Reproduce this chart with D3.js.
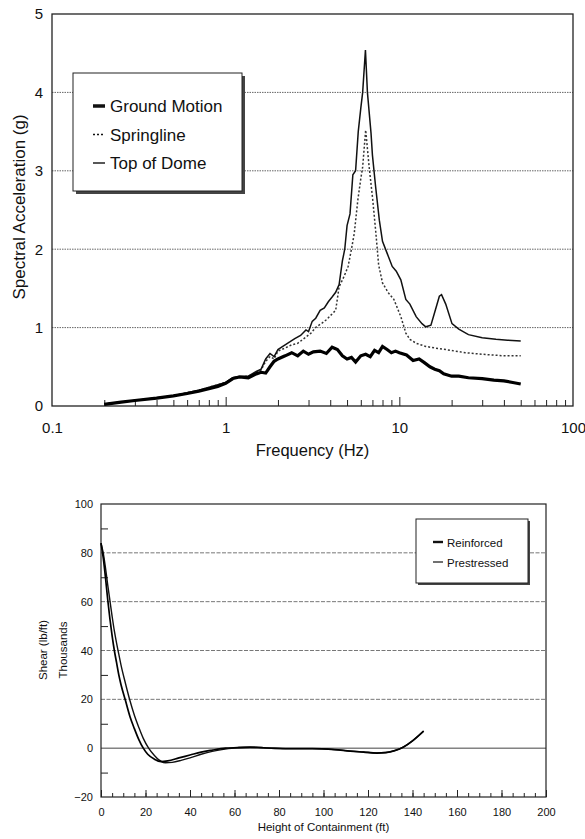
<!DOCTYPE html>
<html>
<head>
<meta charset="utf-8">
<script src="https://cdn.jsdelivr.net/npm/d3@7"></script>
<style>
  body { margin: 0; background: #fff; }
  svg { display: block; font-family: "Liberation Sans", Arial, sans-serif; }
</style>
</head>
<body>
<div class="chart"></div>
<script>
// ---- top chart: response spectra ----
const groundFreq = [0.2,0.25,0.3,0.4,0.5,0.6,0.7,0.8,0.9,1.0,1.1,1.2,1.35,1.5,1.6,1.7,1.8,1.9,2.0,2.2,2.4,2.6,2.8,3.0,3.2,3.5,3.8,4.1,4.4,4.7,5.0,5.3,5.6,6.0,6.4,6.8,7.2,7.6,8.0,8.5,9.0,9.5,10,11,12,13,14,15,16,17,18,20,22,25,30,35,40,45,50];
const groundAccel = [0.02,0.05,0.07,0.1,0.13,0.16,0.19,0.22,0.25,0.29,0.35,0.37,0.36,0.41,0.43,0.42,0.5,0.57,0.6,0.64,0.68,0.64,0.7,0.66,0.69,0.7,0.67,0.75,0.72,0.64,0.6,0.62,0.56,0.64,0.66,0.63,0.71,0.68,0.76,0.72,0.68,0.7,0.68,0.65,0.58,0.6,0.55,0.5,0.47,0.45,0.41,0.38,0.38,0.36,0.35,0.33,0.32,0.3,0.28];

const springFreq = [0.2,0.3,0.5,0.7,1.0,1.1,1.2,1.35,1.5,1.6,1.7,1.8,1.9,2.0,2.2,2.4,2.6,2.9,3.1,3.33,3.6,3.8,4.0,4.3,4.5,4.8,5.07,5.3,5.5,5.77,6.0,6.15,6.4,6.7,7.03,7.33,7.6,8.0,8.6,9.3,10.2,10.9,11.5,12.5,14.2,16,18.5,21,24,30,40,50];
const springAccel = [0.025,0.07,0.13,0.2,0.3,0.35,0.37,0.38,0.43,0.46,0.57,0.63,0.6,0.7,0.74,0.78,0.8,0.88,0.93,1.01,1.06,1.1,1.15,1.22,1.52,1.65,1.78,2.0,2.2,2.63,2.9,3.05,3.52,3.05,2.63,2.2,1.8,1.57,1.45,1.36,1.14,0.93,0.85,0.8,0.76,0.74,0.72,0.7,0.68,0.66,0.64,0.64];

const domeFreq = [0.2,0.3,0.5,0.7,1.0,1.1,1.2,1.35,1.5,1.6,1.7,1.8,1.9,2.0,2.1,2.2,2.35,2.5,2.7,2.9,3.0,3.15,3.3,3.5,3.7,3.9,4.1,4.3,4.5,4.7,4.85,5.0,5.2,5.4,5.6,5.8,6.0,6.15,6.38,6.55,6.87,7.0,7.3,7.67,8.0,8.5,9.1,9.6,10.2,10.9,11.5,12.5,13.5,14.2,15.2,16.0,17.0,17.5,18.5,20.1,22,25,30,36,42,50];
const domeAccel = [0.025,0.07,0.13,0.2,0.3,0.36,0.38,0.38,0.44,0.47,0.6,0.67,0.63,0.72,0.75,0.78,0.82,0.86,0.9,0.97,0.95,1.08,1.12,1.22,1.25,1.33,1.39,1.45,1.55,1.85,2.0,2.3,2.45,2.95,3.0,3.5,3.8,4.0,4.54,4.0,3.48,3.2,2.8,2.37,2.1,1.95,1.78,1.72,1.61,1.36,1.3,1.14,1.05,1.01,1.03,1.2,1.4,1.42,1.3,1.05,0.98,0.91,0.87,0.85,0.84,0.83];

const freqTicks = [0.1, 1, 10, 100];
const accelTicks = [0, 1, 2, 3, 4, 5];
const spectraNames = ["Ground Motion", "Springline", "Top of Dome"];

// ---- bottom chart: shear along height ----
const reinforcedHeight = [0,1,2,3,4,5,6,7,8,9,11,13,15,17,19,21,24,27,30,35,40,45,50,56,62,67,72,78,85,95,105,112,118,124,128,132,136,140,145];
const reinforcedShear = [84,78,70,61,53,46,40,35,30,26,19.5,13,8,3.5,0,-2.5,-4.5,-5.5,-5.2,-4,-2.8,-1.6,-0.8,0,0.3,0.4,0.2,-0.1,-0.2,-0.2,-0.6,-1.2,-1.6,-2,-1.8,-1,0.5,3,7];
const prestressedHeight = [0,1,2,3,4,5,6,7,8,9,11,13,15,17,19,21.4,24,26,29,32,36,40,45,50,55,60,65,70,75,85,95,105,112,118,124,128,132,136,140,145];
const prestressedShear = [84,80,74,67,60.5,54,48,43,38.5,34,26.5,19.5,13.5,8.5,4,0,-3,-4.8,-6,-5.8,-5,-4,-2.5,-1.3,-0.5,0,0.3,0.4,0.1,-0.2,-0.2,-0.6,-1.2,-1.6,-2,-1.8,-1,0.5,3,7];

const heightTicks = d3.range(0, 201, 20);
const shearTicks = d3.range(-20, 101, 20);
const shearNames = ["Reinforced", "Prestressed"];

const svg = d3.select(".chart").append("svg")
    .attr("width", 585)
    .attr("height", 839);

// ================= top chart =================
const t = {left: 52, top: 14, right: 573, bottom: 406};

const x1 = d3.scaleLog().domain([0.1, 100]).range([t.left, t.right]);
const y1 = d3.scaleLinear().domain([0, 5]).range([t.bottom, t.top]);

const spec = svg.append("g");

// grid
spec.selectAll(".grid1")
  .data(accelTicks.filter(d => d > 0 && d < 5))
  .enter().append("line")
    .attr("x1", t.left).attr("x2", t.right)
    .attr("y1", d => y1(d)).attr("y2", d => y1(d))
    .attr("stroke", "#666")
    .attr("stroke-width", 1)
    .attr("stroke-dasharray", "1.5,1");

// minor ticks pointing up
let minorFreq = [];
[0.1, 1, 10].forEach(dec => { for (let k = 2; k <= 9; k++) minorFreq.push(dec * k); });
spec.append("g")
    .attr("transform", "translate(0," + t.bottom + ")")
    .call(d3.axisBottom(x1).tickValues(minorFreq).tickSize(-6).tickFormat(""))
    .call(g => g.select(".domain").remove())
    .selectAll("line").attr("stroke", "#222");
spec.append("g")
    .attr("transform", "translate(0," + t.bottom + ")")
    .call(d3.axisBottom(x1).tickValues([1, 10]).tickSize(-9).tickFormat(""))
    .call(g => g.select(".domain").remove())
    .selectAll("line").attr("stroke", "#222");

// axis labels
const xAx1 = spec.append("g")
    .attr("transform", "translate(0," + t.bottom + ")")
    .call(d3.axisBottom(x1).tickValues(freqTicks).tickSize(0).tickPadding(16).tickFormat(d3.format("")));
xAx1.select(".domain").remove();
xAx1.selectAll("text").attr("font-size", 15).attr("font-family", "Liberation Sans, Arial, sans-serif").attr("fill", "#111");

const yAx1 = spec.append("g")
    .attr("transform", "translate(" + t.left + ",0)")
    .call(d3.axisLeft(y1).tickValues(accelTicks).tickSize(0).tickPadding(9).tickFormat(d3.format("d")));
yAx1.select(".domain").remove();
yAx1.selectAll("text").attr("font-size", 15).attr("font-family", "Liberation Sans, Arial, sans-serif").attr("fill", "#111");

// frame
spec.append("rect")
    .attr("x", t.left).attr("y", t.top)
    .attr("width", t.right - t.left).attr("height", t.bottom - t.top)
    .attr("fill", "none").attr("stroke", "#222").attr("stroke-width", 1.3);

const line1 = d3.line().x(d => x1(d[0])).y(d => y1(d[1]));

spec.append("path")
    .datum(d3.zip(springFreq, springAccel))
    .attr("d", line1).attr("fill", "none")
    .attr("stroke", "#333").attr("stroke-width", 1.5)
    .attr("stroke-dasharray", "2,2");
spec.append("path")
    .datum(d3.zip(domeFreq, domeAccel))
    .attr("d", line1).attr("fill", "none")
    .attr("stroke", "#111").attr("stroke-width", 1.5);
spec.append("path")
    .datum(d3.zip(groundFreq, groundAccel))
    .attr("d", line1).attr("fill", "none")
    .attr("stroke", "#000").attr("stroke-width", 3.2);

// legend
const lg1 = spec.append("g");
lg1.append("rect").attr("x", 76).attr("y", 76).attr("width", 169).attr("height", 118).attr("fill", "#444");
lg1.append("rect").attr("x", 73).attr("y", 73).attr("width", 169).attr("height", 118)
    .attr("fill", "#fff").attr("stroke", "#222").attr("stroke-width", 1);
const lg1Styles = [
  {w: 3.5, dash: null},
  {w: 1.4, dash: "2,2"},
  {w: 1.4, dash: null}
];
spectraNames.forEach((name, i) => {
  const yy = 106 + i * 28.5;
  lg1.append("line").attr("x1", 93).attr("x2", 105).attr("y1", yy).attr("y2", yy)
      .attr("stroke", "#111").attr("stroke-width", lg1Styles[i].w)
      .attr("stroke-dasharray", lg1Styles[i].dash);
  lg1.append("text").attr("x", 110).attr("y", yy + 6)
      .attr("font-size", 17).attr("fill", "#111").text(name);
});

spec.append("text")
    .attr("x", (t.left + t.right) / 2).attr("y", 456)
    .attr("text-anchor", "middle").attr("font-size", 16.5).attr("fill", "#111")
    .text("Frequency (Hz)");
spec.append("text")
    .attr("transform", "translate(25,207) rotate(-90)")
    .attr("text-anchor", "middle").attr("font-size", 17).attr("fill", "#111")
    .text("Spectral Acceleration (g)");

// ================= bottom chart =================
const b = {left: 101, top: 504, right: 546, bottom: 797};

const x2 = d3.scaleLinear().domain([0, 200]).range([b.left, b.right]);
const y2 = d3.scaleLinear().domain([-20, 100]).range([b.bottom, b.top]);

const bot = svg.append("g");

bot.selectAll(".grid2")
  .data(shearTicks.filter(d => d > 0 && d < 100))
  .enter().append("line")
    .attr("x1", b.left).attr("x2", b.right)
    .attr("y1", d => y2(d)).attr("y2", d => y2(d))
    .attr("stroke", "#777").attr("stroke-width", 1)
    .attr("stroke-dasharray", "4,1.5");
bot.append("line")
    .attr("x1", b.left).attr("x2", b.right)
    .attr("y1", y2(0)).attr("y2", y2(0))
    .attr("stroke", "#444").attr("stroke-width", 1);

// minor ticks
bot.append("g")
    .attr("transform", "translate(0," + b.bottom + ")")
    .call(d3.axisBottom(x2).tickValues(d3.range(5, 200, 5)).tickSize(-4).tickFormat(""))
    .call(g => g.select(".domain").remove())
    .selectAll("line").attr("stroke", "#222");
bot.append("g")
    .attr("transform", "translate(" + b.left + ",0)")
    .call(d3.axisLeft(y2).tickValues(d3.range(-10, 100, 20)).tickSize(-7).tickFormat(""))
    .call(g => g.select(".domain").remove())
    .selectAll("line").attr("stroke", "#222");

const xAx2 = bot.append("g")
    .attr("transform", "translate(0," + b.bottom + ")")
    .call(d3.axisBottom(x2).tickValues(heightTicks).tickSize(-7).tickPadding(11.5));
xAx2.select(".domain").remove();
xAx2.selectAll("line").attr("stroke", "#222");
xAx2.selectAll("text").attr("font-size", 11).attr("font-family", "Liberation Sans, Arial, sans-serif").attr("fill", "#111");

const yAx2 = bot.append("g")
    .attr("transform", "translate(" + b.left + ",0)")
    .call(d3.axisLeft(y2).tickValues(shearTicks).tickSize(0).tickPadding(8));
yAx2.select(".domain").remove();
yAx2.selectAll("text").attr("font-size", 11).attr("font-family", "Liberation Sans, Arial, sans-serif").attr("fill", "#111");

bot.append("rect")
    .attr("x", b.left).attr("y", b.top)
    .attr("width", b.right - b.left).attr("height", b.bottom - b.top)
    .attr("fill", "none").attr("stroke", "#222").attr("stroke-width", 1.2);

const line2 = d3.line().x(d => x2(d[0])).y(d => y2(d[1])).curve(d3.curveMonotoneX);

bot.append("path")
    .datum(d3.zip(prestressedHeight, prestressedShear))
    .attr("d", line2).attr("fill", "none")
    .attr("stroke", "#111").attr("stroke-width", 1.4);
bot.append("path")
    .datum(d3.zip(reinforcedHeight, reinforcedShear))
    .attr("d", line2).attr("fill", "none")
    .attr("stroke", "#000").attr("stroke-width", 1.7);

// legend
const lg2 = bot.append("g");
lg2.append("rect").attr("x", 418).attr("y", 521).attr("width", 112).attr("height", 64).attr("fill", "#444");
lg2.append("rect").attr("x", 416).attr("y", 519).attr("width", 112).attr("height", 64)
    .attr("fill", "#fff").attr("stroke", "#222").attr("stroke-width", 1);
shearNames.forEach((name, i) => {
  const yy = 542 + i * 20;
  lg2.append("line").attr("x1", 433).attr("x2", 443).attr("y1", yy).attr("y2", yy)
      .attr("stroke", "#111").attr("stroke-width", i === 0 ? 2.4 : 1.2);
  lg2.append("text").attr("x", 447).attr("y", yy + 4.5)
      .attr("font-size", 11.5).attr("fill", "#111").text(name);
});

bot.append("text")
    .attr("x", (b.left + b.right) / 2).attr("y", 831)
    .attr("text-anchor", "middle").attr("font-size", 11.5).attr("fill", "#111")
    .text("Height of Containment (ft)");
bot.append("text")
    .attr("transform", "translate(47,650) rotate(-90)")
    .attr("text-anchor", "middle").attr("font-size", 11.5).attr("fill", "#111")
    .text("Shear (lb/ft)");
bot.append("text")
    .attr("transform", "translate(67,650) rotate(-90)")
    .attr("text-anchor", "middle").attr("font-size", 11.5).attr("fill", "#111")
    .text("Thousands");
</script>
</body>
</html>
